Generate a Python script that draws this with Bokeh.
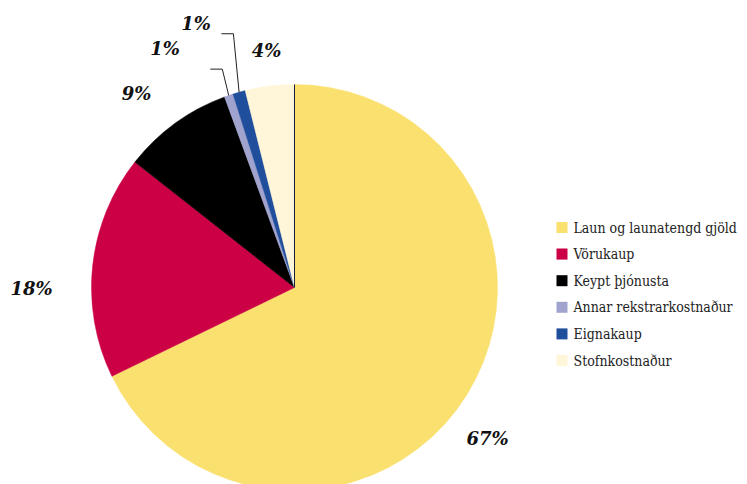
import math
from bokeh.plotting import figure
from bokeh.models import Range1d, Label
from bokeh.embed import file_html
from bokeh.resources import INLINE

# ---- data ----
categories = ["Laun og launatengd gjöld", "Vörukaup", "Keypt þjónusta",
              "Annar rekstrarkostnaður", "Eignakaup", "Stofnkostnaður"]
shares = [67.8, 17.8, 8.8, 0.7, 1.0, 3.9]
labels = ["67%", "18%", "9%", "1%", "1%", "4%"]

# ---- style ----
colors = ["#FAE06E", "#CC0044", "#000000", "#A0A3CD", "#1F4E9C", "#FFF5D8"]
W, H = 747, 484
cx, cy, R = 294, H - 287, 203
label_r = [245, 263, 250, 272, 282, 239]
label_dang = [-6.0, 6.3, 3.2, 9.5, 4.6, -0.3]
leader = {3: (230, -0.6, 12), 4: (261, -2.3, 12)}
label_font = "DejaVu Serif"
legend_font = "DejaVu Serif Condensed"

p = figure(width=W, height=H, x_range=Range1d(0, W), y_range=Range1d(0, H),
           min_border=0, toolbar_location=None, output_backend="svg",
           x_axis_location=None, y_axis_location=None)
p.grid.visible = False
p.outline_line_color = None
p.background_fill_color = "white"

total = sum(shares)
cum = 0.0
starts, ends, mids = [], [], []
for s in shares:
    a0 = math.pi / 2 - 2 * math.pi * cum / total
    cum += s
    a1 = math.pi / 2 - 2 * math.pi * cum / total
    starts.append(a0)
    ends.append(a1)
    mids.append((a0 + a1) / 2)

p.wedge(x=[cx] * len(shares), y=[cy] * len(shares), radius=R,
        start_angle=starts, end_angle=ends, direction="clock",
        fill_color=colors, line_color=colors, line_width=0.5)

p.segment(x0=[cx], y0=[cy], x1=[cx + R * math.cos(starts[0])],
          y1=[cy + R * math.sin(starts[0])], line_color="#1b1b3a", line_width=1)

# percentage labels
for i, m in enumerate(mids):
    a = m + math.radians(label_dang[i])
    p.add_layout(Label(x=cx + label_r[i] * math.cos(a), y=cy + label_r[i] * math.sin(a),
                       text=labels[i], text_align="center", text_baseline="middle",
                       text_font=label_font, text_font_style="bold italic",
                       text_font_size="18px", text_color="#111111"))

# leader lines
for i, (er, edang, hl) in leader.items():
    m = mids[i]
    sx, sy = cx + R * math.cos(m), cy + R * math.sin(m)
    ea = m + math.radians(edang)
    ex, ey = cx + er * math.cos(ea), cy + er * math.sin(ea)
    p.line(x=[sx, ex, ex - hl], y=[sy, ey, ey], line_color="#222222", line_width=1)

# legend
lgx_sq, lgx_tx = 561.5, 573
lg_y = [H - (227 + i * 26.6) for i in range(len(categories))]
p.rect(x=[lgx_sq] * len(categories), y=lg_y, width=11, height=11,
       width_units="screen", height_units="screen",
       fill_color=colors, line_color=None)
for i, name in enumerate(categories):
    p.add_layout(Label(x=lgx_tx, y=lg_y[i], text=name, text_align="left",
                       text_baseline="middle", text_font=legend_font,
                       text_font_size="14px", text_color="#222222"))

open("out.html", "w").write(file_html(p, INLINE))
